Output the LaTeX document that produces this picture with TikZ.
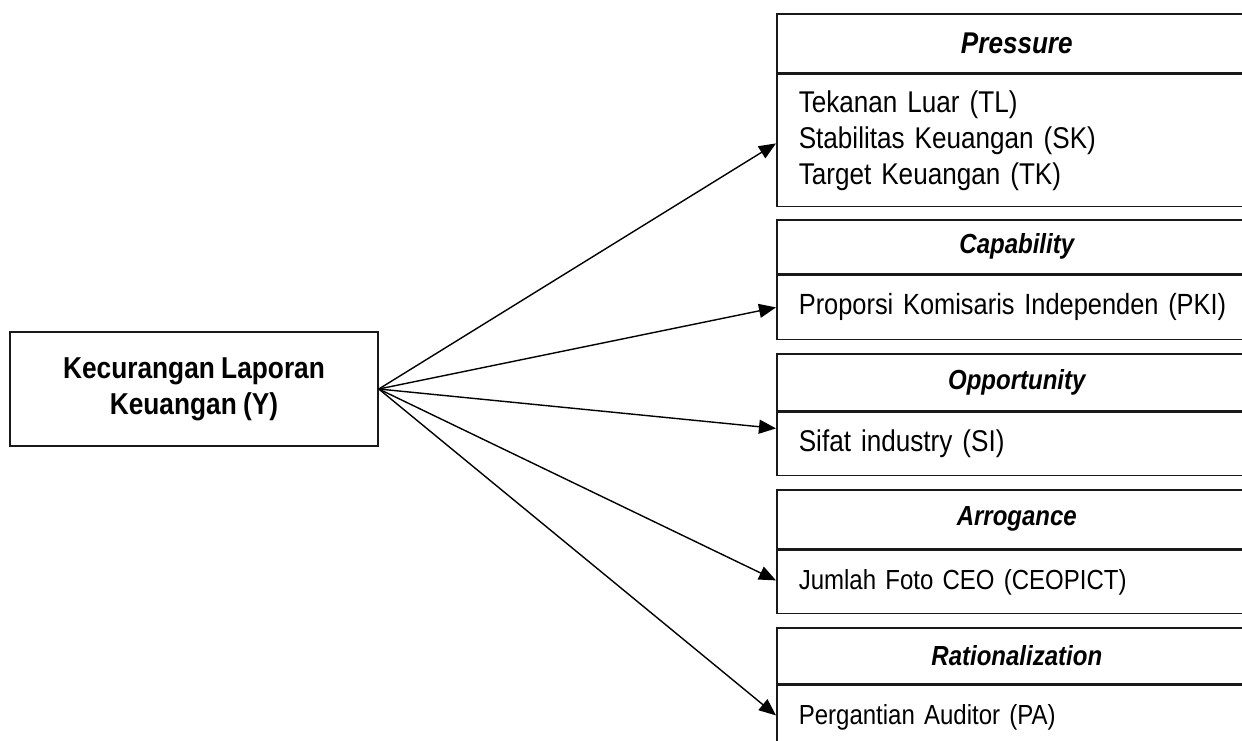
\documentclass[tikz,border=0pt]{standalone}
\usepackage{fontspec}
\setmainfont{Liberation Sans}[FakeStretch=0.87,WordSpace=0.87]
\usetikzlibrary{arrows.meta}
\begin{document}
\begin{tikzpicture}[x=0.5pt,y=-0.5pt,
  boxline/.style={draw=black!90, line width=0.8pt},
  hdr/.style={boxline, anchor=north west, minimum width=240pt, inner sep=0pt,
    font=\fontsize{13.8}{16}\selectfont\bfseries\itshape},
  body/.style={boxline, anchor=north west, text width=218pt, inner xsep=11pt, inner ysep=0pt,
    align=left, font=\fontsize{15}{18}\selectfont},
  conn/.style={line width=0.7pt, -{Triangle[length=8.5pt,width=7pt]}}
]
\useasboundingbox (0,0) rectangle (1242,740);
\clip (0,0) rectangle (1242,740);

% left box
\node[boxline, minimum width=184pt, minimum height=57pt, inner sep=0pt, align=center,
  font=\fontsize{15.1}{18}\selectfont\bfseries] (kl) at (194,389)
  {Kecurangan Laporan\\Keuangan (Y)};

% Pressure
\node[hdr, minimum height=29.5pt, font=\fontsize{15}{17}\selectfont\bfseries\itshape] (ph) at (776,13) {Pressure};
\node[body, minimum height=66pt] (pb) at (ph.south west) {Tekanan Luar (TL)\\Stabilitas Keuangan (SK)\\Target Keuangan (TK)};

% Capability
\node[hdr, minimum height=27pt] (ch) at (776,219) {Capability};
\node[body, minimum height=32pt, font=\fontsize{14.6}{18}\selectfont] (cb) at (ch.south west) {\mbox{Proporsi Komisaris Independen (PKI)}};

% Opportunity
\node[hdr, minimum height=28.5pt] (oh) at (776,353) {Opportunity};
\node[body, minimum height=31.5pt] (ob) at (oh.south west) {Sifat industry (SI)};

% Arrogance
\node[hdr, minimum height=29.5pt] (ah) at (776,489) {Arrogance};
\node[body, minimum height=31.5pt, font=\fontsize{13.8}{16}\selectfont] (ab) at (ah.south west) {Jumlah Foto CEO (CEOPICT)};

% Rationalization
\node[hdr, minimum height=28pt] (rh) at (776,627) {Rationalization};
\node[body, minimum height=32pt, font=\fontsize{13.8}{16}\selectfont] (rb) at (rh.south west) {Pergantian Auditor (PA)};

% connectors
\draw[conn] (kl.east) -- ([yshift=-1.5pt]pb.west);
\draw[conn] (kl.east) -- (cb.west);
\draw[conn] (kl.east) -- ([yshift=7.75pt]ob.west);
\draw[conn] (kl.east) -- ([yshift=0.75pt]ab.west);
\draw[conn] (kl.east) -- ([yshift=1pt]rb.west);
\end{tikzpicture}
\end{document}
